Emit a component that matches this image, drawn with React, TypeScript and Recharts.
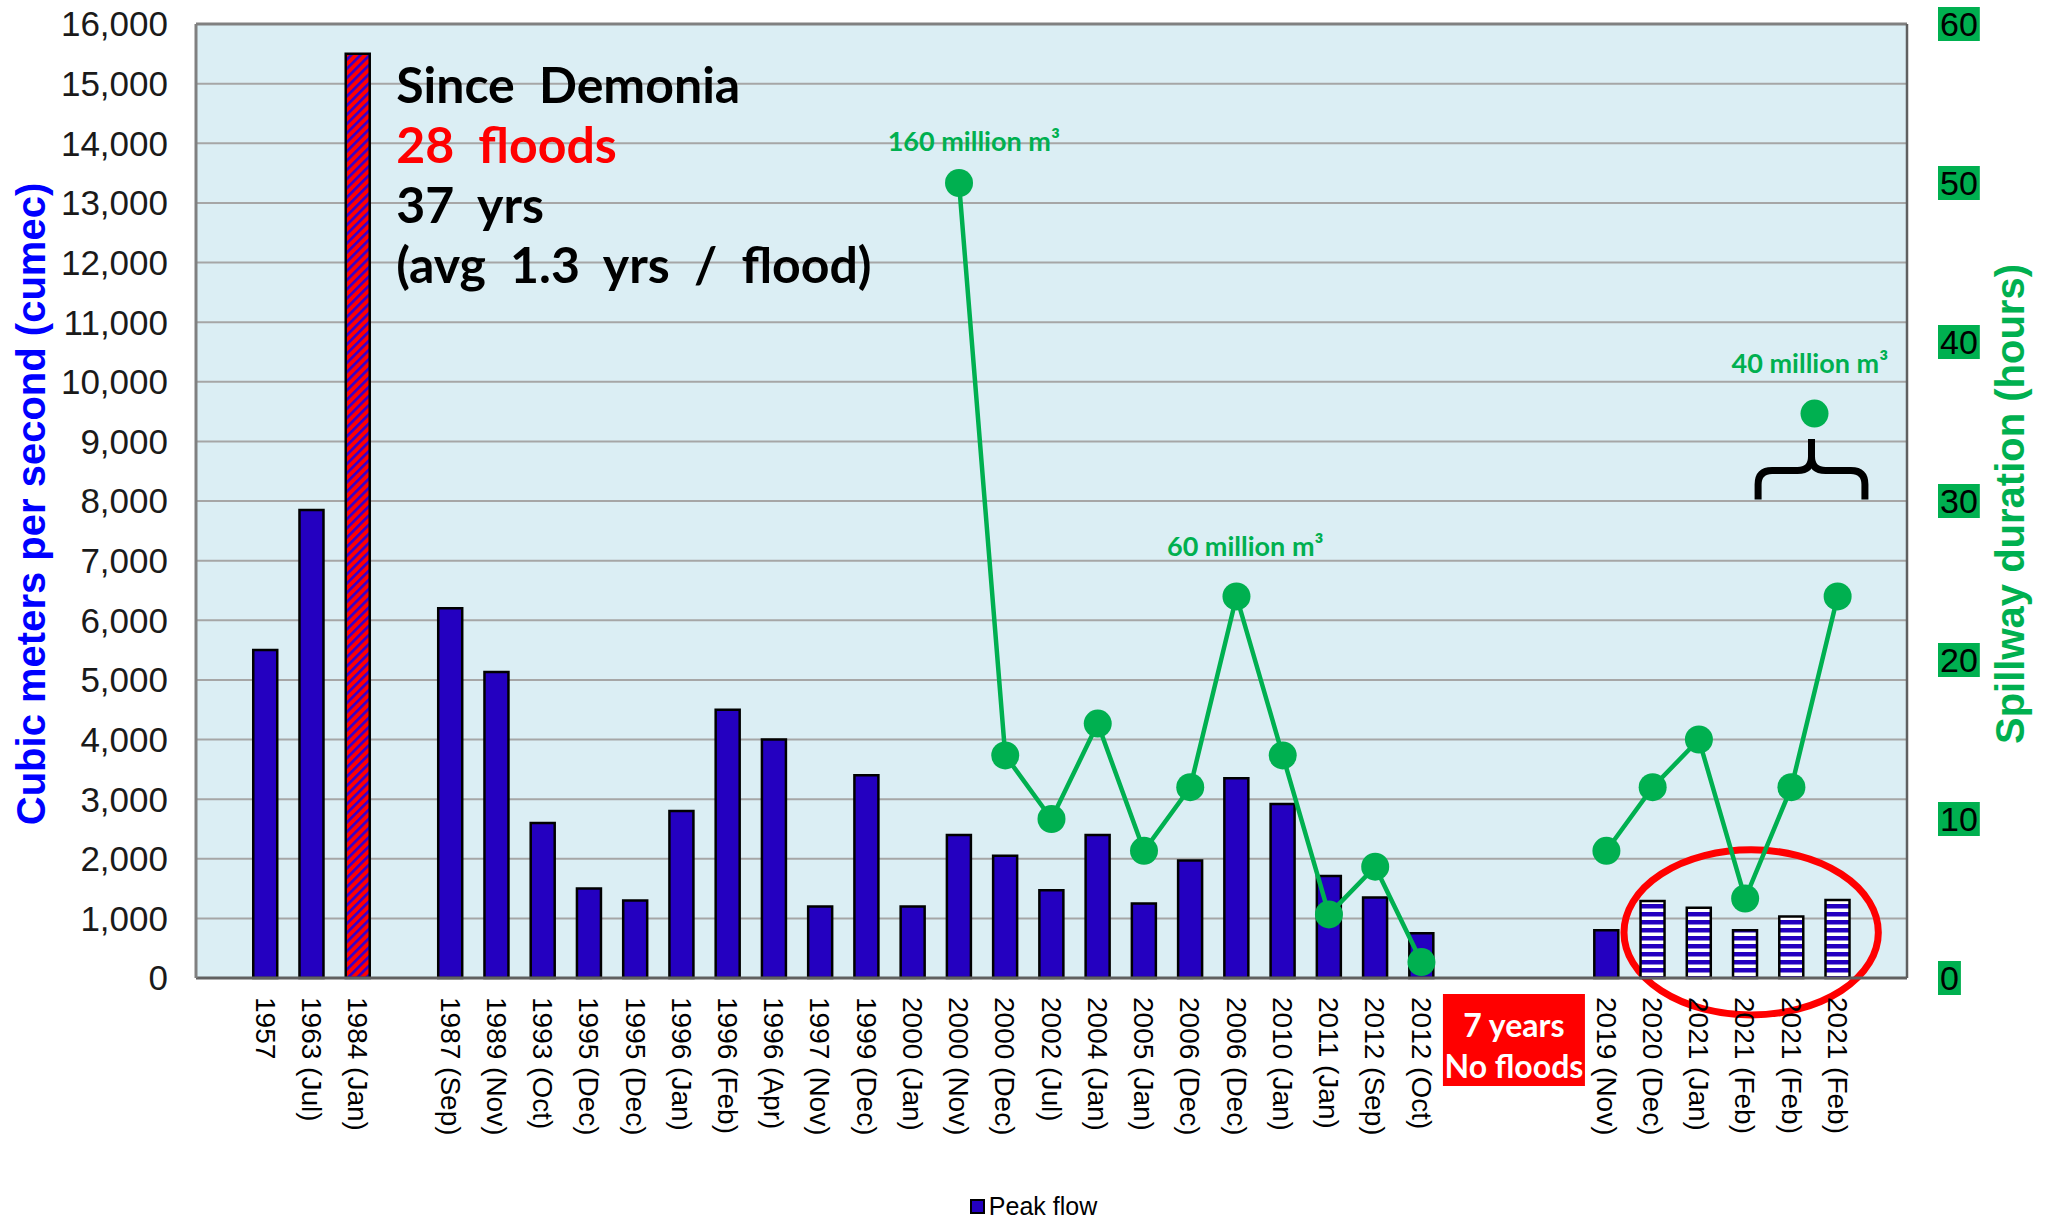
import {
  Bar,
  Cell,
  ComposedChart,
  CartesianGrid,
  Label,
  Legend,
  Line,
  ReferenceArea,
  ReferenceLine,
  XAxis,
  YAxis,
} from "recharts"

// one slot per category position; empty strings are the gaps in the timeline
const slotLabels = [
  "", "1957", "1963 (Jul)", "1984 (Jan)", "",
  "1987 (Sep)", "1989 (Nov)", "1993 (Oct)", "1995 (Dec)", "1995 (Dec)",
  "1996 (Jan)", "1996 (Feb)", "1996 (Apr)", "1997 (Nov)", "1999 (Dec)",
  "2000 (Jan)", "2000 (Nov)", "2000 (Dec)", "2002 (Jul)", "2004 (Jan)",
  "2005 (Jan)", "2006 (Dec)", "2006 (Dec)", "2010 (Jan)", "2011 (Jan)",
  "2012 (Sep)", "2012 (Oct)", "", "", "",
  "2019 (Nov)", "2020 (Dec)", "2021 (Jan)", "2021 (Feb)", "2021 (Feb)", "2021 (Feb)", "",
]

// peak flow, cumec
const peakFlow = [
  null, 5500, 7850, 15500, null,
  6200, 5130, 2600, 1500, 1300,
  2800, 4500, 4000, 1200, 3400,
  1200, 2400, 2050, 1470, 2400,
  1250, 1970, 3350, 2920, 1710,
  1350, 750, null, null, null,
  800, 1290, 1180, 800, 1030, 1310, null,
]

// spillway duration, hours
const spillHours = [
  null, null, null, null, null,
  null, null, null, null, null,
  null, null, null, null, null,
  null, 50, 14, 10, 16,
  8, 12, 24, 14, 4,
  7, 1, null, null, null,
  8, 12, 15, 5, 12, 24, null,
]

const flowTicks = [0, 1000, 2000, 3000, 4000, 5000, 6000, 7000, 8000, 9000, 10000, 11000, 12000, 13000, 14000, 15000, 16000]
const hourTicks = [0, 10, 20, 30, 40, 50, 60]

const summaryLines = ["Since Demonia", "28 floods", "37 yrs", "(avg 1.3 yrs / flood)"]
const gapNote = ["7 years", "No floods"]
const GAP_SLOT = 28
const RECORD_SLOT = 3
const RECENT_FROM = 31
// the separate 40 million m³ event, drawn between the last two slots
const extraEventHours = 35.5

const FLOW_MAX = flowTicks[flowTicks.length - 1]
const HOUR_MAX = hourTicks[hourTicks.length - 1]

const rows = slotLabels.map((label, i) => ({
  slot: i,
  label,
  peak: peakFlow[i],
  hours: spillHours[i],
}))

const BLUE = "#2400C0"
const GREEN = "#00B050"
const RED = "#FF0000"
const ARIAL = "'Liberation Sans', Arial, sans-serif"
const NOTE = "'Comic Sans MS', Lato, sans-serif"

function SlotTick(props: any) {
  const { x, y, payload } = props
  const i = payload.value
  if (i === GAP_SLOT) {
    return (
      <g>
        <rect x={x - 71} y={y - 3} width={142} height={92} fill={RED} />
        <text x={x} y={y + 27} textAnchor="middle" dominantBaseline="central" fill="#fff" fontSize={32} fontWeight="bold" fontFamily={NOTE}>
          {gapNote[0]}
        </text>
        <text x={x} y={y + 68} textAnchor="middle" dominantBaseline="central" fill="#fff" fontSize={32} fontWeight="bold" fontFamily={NOTE}>
          {gapNote[1]}
        </text>
      </g>
    )
  }
  const label = slotLabels[i]
  if (!label) return <g />
  return (
    <text x={x} y={y} dy="0.35em" transform={`rotate(90, ${x}, ${y})`} textAnchor="start" fill="#000" fontSize={28} fontFamily={ARIAL}>
      {label}
    </text>
  )
}

function HourTick(props: any) {
  const { x, y, payload } = props
  const s = String(payload.value)
  const fs = 34
  const w = s.length * 0.556 * fs
  return (
    <g>
      <rect x={x - 2} y={y - 17} width={w + 4} height={34} fill={GREEN} />
      <text x={x} y={y} dy="0.36em" fill="#000" fontSize={fs} fontFamily={ARIAL}>
        {s}
      </text>
    </g>
  )
}

const axisTitle = (text: string, color: string, dx: number) => (p: any) => {
  const vb = p.viewBox
  const cx = vb.x + dx
  const cy = vb.y + vb.height / 2 + 3
  return (
    <text x={cx} y={cy} transform={`rotate(-90, ${cx}, ${cy})`} textAnchor="middle" dominantBaseline="central" fill={color} fontSize={40} fontWeight="bold" fontFamily={ARIAL}>
      {text}
    </text>
  )
}

// annotations drawn over the whole plot area, positioned in slot / axis units
const overlay = (p: any) => {
  const { x, y, width, height } = p
  const sx = (v: number) => x + (v / slotLabels.length) * width
  const hy = (h: number) => y + height * (1 - h / HOUR_MAX)
  const fy = (f: number) => y + height * (1 - f / FLOW_MAX)

  const note = (text: string, v: number, h: number) => (
    <text x={sx(v)} y={hy(h)} textAnchor="middle" dominantBaseline="central" fill={GREEN} fontSize={27} fontWeight="bold" fontFamily={NOTE}>
      {text}
    </text>
  )

  // brace under the extra event
  const bx1 = sx(33.78)
  const bx2 = sx(36.09)
  const by1 = hy(33.9)
  const by2 = hy(30.1)
  const bxc = (bx1 + bx2) / 2
  const bym = by1 + (by2 - by1) * 0.52
  const r = 14
  const brace =
    `M ${bx1} ${by2} L ${bx1} ${bym + r} Q ${bx1} ${bym} ${bx1 + r} ${bym} L ${bxc - r} ${bym} Q ${bxc} ${bym} ${bxc} ${bym - r} L ${bxc} ${by1} ` +
    `M ${bx2} ${by2} L ${bx2} ${bym + r} Q ${bx2} ${bym} ${bx2 - r} ${bym} L ${bxc + r} ${bym} Q ${bxc} ${bym} ${bxc} ${bym - r}`

  const ex1 = sx(30.88)
  const ex2 = sx(36.38)
  const ey1 = fy(2150)
  const ey2 = fy(-620)

  return (
    <g>
      <text x={sx(4.33)} y={fy(14680)} fontSize={50} fontWeight="bold" wordSpacing={12} fontFamily={NOTE}>
        {summaryLines.map((t, i) => (
          <tspan key={i} x={sx(4.33)} dy={i === 0 ? 0 : 60} fill={i === 1 ? RED : "#000"}>
            {t}
          </tspan>
        ))}
      </text>
      {note("160 million m³", 16.82, 52.7)}
      {note("60 million m³", 22.69, 27.2)}
      {note("40 million m³", 34.9, 38.7)}
      <circle cx={sx(35)} cy={hy(extraEventHours)} r={14} fill={GREEN} />
      <path d={brace} fill="none" stroke="#000" strokeWidth={7} />
      <ellipse cx={(ex1 + ex2) / 2} cy={(ey1 + ey2) / 2} rx={(ex2 - ex1) / 2} ry={(ey2 - ey1) / 2} fill="none" stroke={RED} strokeWidth={7} />
    </g>
  )
}

const legendContent = (p: any) => (
  <div style={{ display: "flex", justifyContent: "center", alignItems: "center", paddingLeft: 16, paddingTop: 8, fontFamily: ARIAL, fontSize: 25, color: "#000" }}>
    {(p.payload || [])
      .filter((e: any) => e.type !== "none" && e.dataKey === "peak")
      .map((e: any, i: number) => (
        <span key={i} style={{ display: "flex", alignItems: "center" }}>
          <span style={{ display: "inline-block", width: 15, height: 15, background: BLUE, border: "2px solid #000", boxSizing: "border-box", marginRight: 4 }} />
          {e.value}
        </span>
      ))}
  </div>
)

export default function App() {
  return (
    <div style={{ position: "absolute", left: 0, top: 0, width: 2051, height: 1220, background: "#fff" }}>
      <ComposedChart width={2051} height={1220} data={rows} margin={{ top: 24, right: 0, bottom: 0, left: 0 }} barCategoryGap={0}>
        <defs>
          <pattern id="hatchRecord" patternUnits="userSpaceOnUse" width="6.5" height="6.5" patternTransform="rotate(45)">
            <rect width="6.5" height="6.5" fill={RED} />
            <rect width="2.6" height="6.5" fill="#3300CC" />
          </pattern>
          <pattern id="stripeRecent" patternUnits="userSpaceOnUse" width="8" height="8">
            <rect width="8" height="8" fill="#FFFFFF" />
            <rect width="8" height="4.5" fill={BLUE} />
          </pattern>
        </defs>
        <CartesianGrid yAxisId="left" vertical={false} stroke="#A6A6A6" strokeWidth={2} fill="#DBEEF4" fillOpacity={1} />
        <XAxis
          dataKey="slot"
          interval={0}
          tickSize={0}
          tickMargin={19}
          height={206}
          tick={<SlotTick />}
          tickLine={false}
          axisLine={{ stroke: "#606060", strokeWidth: 3 }}
        />
        <YAxis
          yAxisId="left"
          domain={[0, FLOW_MAX]}
          ticks={flowTicks}
          width={196}
          tickSize={0}
          tickMargin={28}
          tickLine={false}
          axisLine={{ stroke: "#808080", strokeWidth: 3 }}
          tick={{ fill: "#1a1a1a", fontSize: 35, fontFamily: ARIAL }}
          tickFormatter={(v) => v.toLocaleString("en-US")}
        >
          <Label content={axisTitle("Cubic meters per second (cumec)", "#0000FF", 31)} />
        </YAxis>
        <YAxis
          yAxisId="right"
          orientation="right"
          domain={[0, HOUR_MAX]}
          ticks={hourTicks}
          width={144}
          tickSize={0}
          tickMargin={33}
          tickLine={false}
          axisLine={{ stroke: "#606060", strokeWidth: 2.5 }}
          tick={<HourTick />}
        >
          <Label content={axisTitle("Spillway duration (hours)", GREEN, 103)} />
        </YAxis>
        <Legend verticalAlign="bottom" height={36} content={legendContent} />
        <ReferenceLine yAxisId="left" y={FLOW_MAX} stroke="#808080" strokeWidth={3} />
        <Bar yAxisId="left" dataKey="peak" name="Peak flow" barSize={24} fill={BLUE} stroke="#000" strokeWidth={2.5} isAnimationActive={false}>
          {rows.map((r, i) => (
            <Cell key={i} fill={i === RECORD_SLOT ? "url(#hatchRecord)" : i >= RECENT_FROM ? "url(#stripeRecent)" : BLUE} />
          ))}
        </Bar>
        <Line
          yAxisId="right"
          dataKey="hours"
          name="hours"
          stroke={GREEN}
          strokeWidth={4.5}
          dot={{ r: 14, fill: GREEN, stroke: GREEN, strokeWidth: 0 }}
          legendType="none"
          isAnimationActive={false}
        />
        <ReferenceArea
          yAxisId="right"
          x1={0}
          x2={slotLabels.length - 1}
          y1={0}
          y2={HOUR_MAX}
          ifOverflow="visible"
          shape={overlay}
        />
      </ComposedChart>
    </div>
  )
}
